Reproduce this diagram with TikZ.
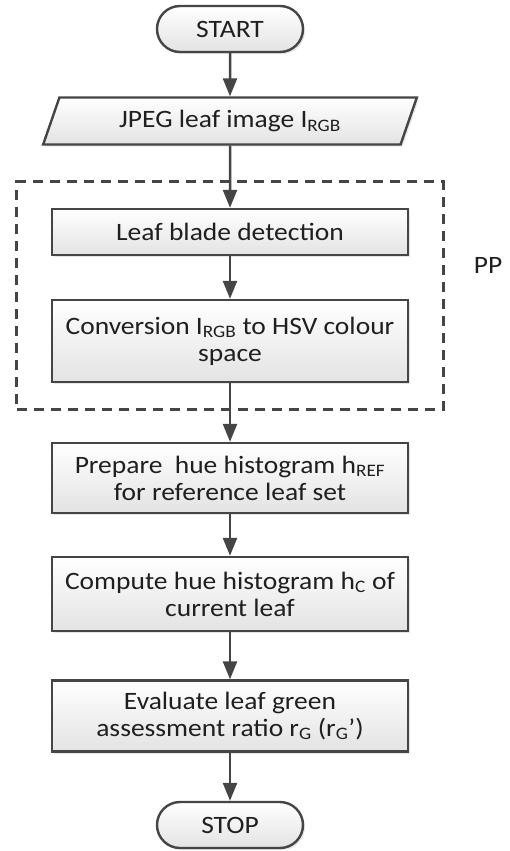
\documentclass[tikz,border=0pt]{standalone}
\usepackage{fontspec}
\setmainfont{Carlito}[FakeStretch=1.1]
\usepackage{xcolor}
\usepackage{tikz}
\usetikzlibrary{arrows.meta,shapes,shadows,fit,positioning}
\definecolor{linegray}{HTML}{454545}
\newcommand\lowtxt[1]{\textsubscript{#1}}

\begin{document}
\begin{tikzpicture}[x=1pt,y=-1pt,
    font=\fontsize{25}{27}\selectfont,
    shaded/.style={draw=linegray,line width=2.4pt,top color=white,bottom color=black!11,
        drop shadow={shadow xshift=2pt,shadow yshift=-2pt,opacity=.2},text=black!88},
    stepbox/.style={shaded,minimum width=356pt,align=center,inner sep=0pt},
    termbox/.style={shaded,rounded rectangle,minimum width=146pt,minimum height=46pt,inner sep=0pt},
    iobox/.style={shaded,trapezium,trapezium left angle=64,trapezium right angle=116,
        trapezium stretches=true,minimum width=375pt,minimum height=47pt,inner sep=0pt},
    flow/.style={draw=linegray,line width=2.5pt,-{Triangle[length=18pt,width=14pt]}}]

    \useasboundingbox (0,0) rectangle (510,851);

    \node[termbox] (start) at (230,29) {START};
    \node[iobox] (img) at (230,121) {JPEG leaf image I\lowtxt{RGB}};
    \node[stepbox,minimum height=46pt] (blade) at (230,232) {Leaf blade detection};
    \node[stepbox,minimum height=82pt] (conv) at (230,341)
    {Conversion I\lowtxt{RGB} to HSV colour\\space};
    \node[stepbox,minimum height=70pt] (href) at (230,478)
    {Prepare\ \ hue histogram h\lowtxt{REF}\\for reference leaf set};
    \node[stepbox,minimum height=74pt] (hc) at (230,594)
    {Compute hue histogram h\lowtxt{C} of\\current leaf};
    \node[stepbox,minimum height=71pt] (ratio) at (230,716)
    {Evaluate leaf green\\assessment ratio r\lowtxt{G} (r\lowtxt{G}’)};
    \node[termbox] (stop) at (230,825) {STOP};

    % preprocessing group
    \node[draw=linegray,line width=2.8pt,dash pattern=on 10pt off 7pt,
        fit=(blade)(conv),inner xsep=34pt,inner ysep=26pt] (pp) {};
    \node[text=black!88] (pplabel) at (488,265) {PP};

    \draw[flow] (start) -- (img);
    \draw[flow] (img) -- (blade);
    \draw[flow] (blade) -- (conv);
    \draw[flow] (conv) -- (href);
    \draw[flow] (href) -- (hc);
    \draw[flow] (hc) -- (ratio);
    \draw[flow] (ratio) -- (stop);

\end{tikzpicture}
\end{document}
